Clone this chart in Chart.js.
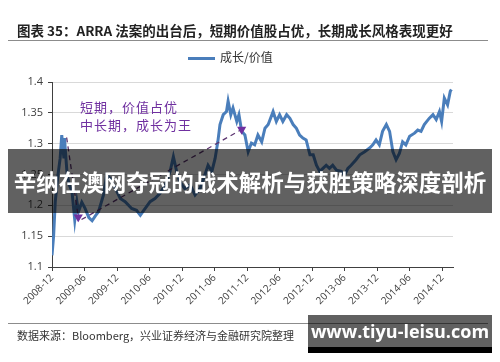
<!DOCTYPE html>
<html lang="zh">
<head>
<meta charset="UTF-8">
<title>ARRA 成长/价值</title>
<script src="https://cdn.jsdelivr.net/npm/chart.js@4.4.1/dist/chart.umd.min.js"></script>
<style>
  html, body { margin: 0; padding: 0; background: #fff; }
  .wrap { position: relative; width: 500px; height: 362px; overflow: hidden; font-family: "Noto Sans CJK SC", sans-serif; }
  .chartBox { position: absolute; left: 0; top: 0; width: 500px; height: 362px; }
  .title { position: absolute; left: 17px; top: 20px; font-size: 13.5px; font-weight: bold; color: #222; white-space: nowrap; }
  .rule { position: absolute; left: 8px; width: 480px; height: 1px; background: #8c8c8c; }
  .legend { position: absolute; left: 188px; top: 48px; font-size: 12px; color: #333; white-space: nowrap; }
  .legend span.swatch { display: inline-block; width: 27px; height: 3px; background: #4a7ebb; vertical-align: middle; margin-right: 5px; }
  .note { position: absolute; left: 80px; font-size: 13px; letter-spacing: 1px; color: #7030a0; white-space: nowrap; }
  .source { position: absolute; left: 17px; top: 327px; font-size: 11px; color: #333; white-space: nowrap; }
  .banner { position: absolute; left: 8px; top: 149px; width: 484px; height: 64px; background: rgba(0,0,0,0.62);
            color: #fff; font-weight: bold; font-size: 22.5px; line-height: 64px; text-align: center; white-space: nowrap; }
  .site { position: absolute; left: 308px; top: 315px; width: 184px; height: 32px; background: rgba(0,0,0,0.62);
          border-bottom: 6px solid #000; color: #fff; font-family: "Open Sans", sans-serif; font-weight: bold;
          font-size: 18px; line-height: 32px; text-align: center; white-space: nowrap; }
</style>
</head>
<body>
<div class="wrap">
  <div class="chartBox"><canvas id="ratioChart"></canvas></div>

  <div class="title">图表 35：ARRA 法案的出台后，短期价值股占优，长期成长风格表现更好</div>
  <div class="rule" style="top:40px"></div>
  <div class="legend"><span class="swatch"></span>成长/价值</div>
  <div class="note" style="top:97px">短期，价值占优</div>
  <div class="note" style="top:115px">中长期，成长为王</div>
  <div class="rule" style="top:323px"></div>
  <div class="source">数据来源：Bloomberg，兴业证券经济与金融研究院整理</div>

  <!-- overlays on top of the picture -->
  <div class="banner">辛纳在澳网夺冠的战术解析与获胜策略深度剖析</div>
  <div class="site">www.tiyu-leisu.com</div>
</div>

<script>
// months since 2008-12
var months = [0, 0.3, 0.6, 1.1, 1.5, 1.8, 2.2, 2.3, 2.8, 3.2, 3.7, 4.2, 4.6, 4.9, 5.5, 6.1, 6.8, 7.4, 8.0, 8.6,
  9.5, 10.1, 10.7, 11.7, 12.6, 13.5, 14.7, 15.6, 16.3, 17.2, 18.1, 19.0, 19.9, 20.9, 21.8, 22.4, 23.0, 23.6,
  24.5, 25.5, 26.4, 27.3, 28.2, 28.8, 29.5, 30.1, 30.6, 31.0, 31.6, 32.2, 32.5, 33.0, 33.4, 34.1, 34.5, 35.0,
  35.6, 36.2, 36.8, 37.4, 38.0, 38.7, 39.3, 39.9, 40.8, 41.4, 42.0, 42.6, 43.3, 43.9, 44.5, 45.1, 45.7, 46.3,
  46.9, 47.6, 48.2, 48.8, 49.4, 50.0, 50.6, 51.2, 51.8, 52.5, 53.4, 54.0, 54.6, 55.2, 56.1, 56.8, 57.7, 58.6,
  59.2, 59.8, 60.4, 61.0, 61.7, 62.3, 62.9, 63.5, 64.1, 64.7, 65.3, 66.0, 66.9, 67.5, 68.1, 68.7, 69.6, 70.3,
  70.9, 71.5, 71.9, 72.4, 73.0, 73.5, 73.7];
var growthValue = [1.119, 1.151, 1.206, 1.249, 1.276, 1.314, 1.276, 1.309, 1.249, 1.233, 1.222, 1.176, 1.206, 1.19, 1.205, 1.195, 1.18, 1.175, 1.183, 1.19,
  1.217, 1.249, 1.244, 1.227, 1.211, 1.206, 1.195, 1.192, 1.184, 1.195, 1.206, 1.211, 1.219, 1.233, 1.255, 1.279, 1.255, 1.238,
  1.227, 1.233, 1.217, 1.227, 1.249, 1.265, 1.255, 1.276, 1.303, 1.331, 1.347, 1.352, 1.369, 1.347, 1.358, 1.336, 1.347, 1.32,
  1.314, 1.287, 1.301, 1.298, 1.314, 1.303, 1.325, 1.331, 1.352, 1.336, 1.347, 1.336, 1.347, 1.341, 1.331, 1.325, 1.314, 1.309,
  1.306, 1.282, 1.282, 1.265, 1.255, 1.26, 1.265, 1.26, 1.265, 1.257, 1.255, 1.249, 1.26, 1.265, 1.274, 1.282, 1.287, 1.293,
  1.298, 1.306, 1.298, 1.32, 1.331, 1.32, 1.287, 1.274, 1.284, 1.303, 1.298, 1.312, 1.317, 1.322, 1.32, 1.331, 1.341, 1.347,
  1.339, 1.352, 1.336, 1.374, 1.363, 1.385, 1.388];

var xTickMonths = [0, 6, 12, 18, 24, 30, 36, 42, 48, 54, 60, 66, 72];
var xTickLabels = ["2008-12", "2009-06", "2009-12", "2010-06", "2010-12", "2011-06", "2011-12",
  "2012-06", "2012-12", "2013-06", "2013-12", "2014-06", "2014-12"];
var yTickValues = [1.1, 1.15, 1.2, 1.25, 1.3, 1.35, 1.4];
var yTickLabels = ["1.1", "1.15", "1.2", "1.25", "1.3", "1.35", "1.4"];

// dashed arrows of the annotation (month, value)
var shortArrow = [[2.7, 1.31], [4.85, 1.181]];
var longArrow = [[5.45, 1.177], [35.0, 1.323]];

var lineColour = "#4a7ebb";
var noteColour = "#7030a0";

var points = months.map(function (m, i) { return { x: m, y: growthValue[i] }; });

function arrowSet(pairs) {
  return {
    data: pairs.map(function (p) { return { x: p[0], y: p[1] }; }),
    borderColor: "#5b3470",
    borderWidth: 1.3,
    borderDash: [5, 4],
    pointRadius: [0, 4],
    pointStyle: "triangle",
    rotation: 180,
    pointBackgroundColor: noteColour,
    pointBorderColor: noteColour,
    tension: 0
  };
}

var ctx = document.getElementById("ratioChart").getContext("2d");
var ratioChart = new Chart(ctx, {
  type: "line",
  data: {
    datasets: [
      arrowSet(shortArrow),
      arrowSet(longArrow),
      {
        label: "成长/价值",
        data: points,
        borderColor: lineColour,
        borderWidth: 3,
        pointRadius: 0,
        tension: 0
      }
    ]
  },
  options: {
    responsive: true,
    maintainAspectRatio: false,
    animation: false,
    layout: { padding: { top: 82, right: 47, left: 0, bottom: 0 } },
    plugins: { legend: { display: false }, tooltip: { enabled: false } },
    scales: {
      x: {
        type: "linear",
        min: 0,
        max: 74,
        afterFit: function (scale) { scale.height = 95; },
        afterBuildTicks: function (scale) {
          scale.ticks = xTickMonths.map(function (v) { return { value: v }; });
        },
        ticks: {
          autoSkip: false,
          maxRotation: 45,
          minRotation: 45,
          padding: 1,
          color: "#404040",
          font: { family: "Open Sans", size: 10 },
          callback: function (v) { return xTickLabels[xTickMonths.indexOf(v)]; }
        },
        grid: { drawOnChartArea: false, drawTicks: true, tickLength: 4, tickColor: "#404040" },
        border: { color: "#404040", width: 1 }
      },
      y: {
        min: 1.1,
        max: 1.4,
        afterFit: function (scale) { scale.width = 52; },
        afterBuildTicks: function (scale) {
          scale.ticks = yTickValues.map(function (v) { return { value: v }; });
        },
        ticks: {
          padding: 5,
          color: "#404040",
          font: { family: "Open Sans", size: 11 },
          callback: function (v) { return yTickLabels[yTickValues.indexOf(v)]; }
        },
        grid: { color: "#d9d9d9", tickLength: 4, tickColor: "#404040" },
        border: { color: "#404040", width: 1 }
      }
    }
  }
});
</script>
</body>
</html>
